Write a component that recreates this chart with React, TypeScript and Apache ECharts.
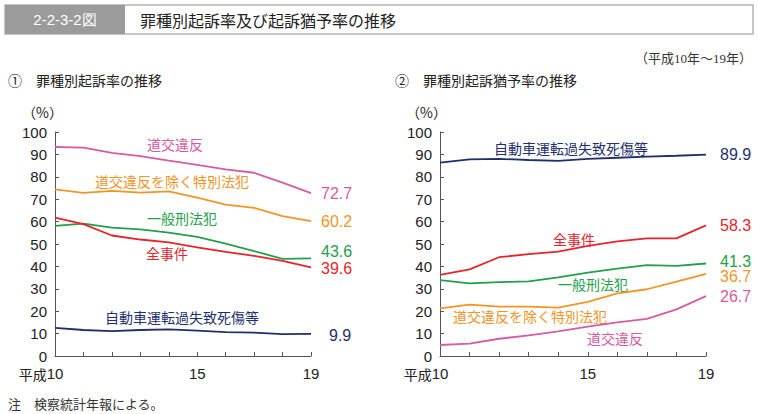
import React, { useEffect, useRef } from "react";
import * as echarts from "echarts";

const years = ["10", "11", "12", "13", "14", "15", "16", "17", "18", "19"];

// ① 起訴率
const prosAll = [61.8, 58.9, 53.8, 52.0, 50.7, 48.5, 46.5, 44.7, 42.5, 39.6];
const prosPenal = [58.1, 59.1, 57.3, 56.5, 55.1, 53.2, 50.2, 46.8, 43.4, 43.6];
const prosTraffic = [93.3, 93.0, 90.7, 89.2, 87.2, 85.3, 83.3, 81.8, 77.4, 72.7];
const prosSpecial = [74.4, 72.8, 73.7, 72.9, 73.5, 70.7, 67.6, 66.1, 62.4, 60.2];
const prosNegligence = [12.6, 11.6, 11.1, 11.6, 11.9, 11.3, 10.7, 10.4, 9.8, 9.9];

// ② 起訴猶予率
const suspAll = [36.2, 38.7, 44.1, 45.5, 46.6, 49.2, 51.2, 52.5, 52.5, 58.3];
const suspPenal = [33.9, 32.4, 33.0, 33.3, 35.1, 37.2, 39.0, 40.6, 40.2, 41.3];
const suspTraffic = [4.9, 5.5, 7.7, 9.2, 11.0, 13.1, 15.0, 16.6, 20.8, 26.7];
const suspSpecial = [21.3, 22.9, 22.0, 22.0, 21.6, 24.2, 28.0, 29.8, 33.2, 36.7];
const suspNegligence = [86.3, 87.8, 88.0, 87.5, 87.1, 88.0, 88.5, 89.0, 89.4, 89.9];

const C_ALL = "#e8232b";
const C_PENAL = "#22a04b";
const C_TRAFFIC = "#d65ba3";
const C_SPECIAL = "#f39427";
const C_NEG = "#1f2f6e";

const JP = "'Noto Sans CJK JP', 'Liberation Sans', sans-serif";
const NUM = "'Liberation Sans', Arial, sans-serif";
const SERIF = "'Liberation Serif', 'DejaVu Serif', 'Noto Sans CJK JP', serif";

export default function App() {
  const ref = useRef<HTMLDivElement>(null);
  useEffect(() => {
    if (!ref.current) return;
    const chart = echarts.init(ref.current, undefined, { renderer: "svg" });

    const xAxisBase = (gridIndex: number) => ({
      type: "category" as const,
      gridIndex,
      data: years,
      boundaryGap: false,
      axisLine: { lineStyle: { color: "#555", width: 1 } },
      axisTick: { show: true, inside: true, length: 4, interval: 0, lineStyle: { color: "#555" } },
      axisLabel: {
        interval: (i: number) => i === 0 || i === 5 || i === 9,
        fontSize: 15,
        lineHeight: 15,
        fontFamily: NUM,
        color: "#222",
        margin: 10,
        formatter: (v: string) => (v === "10" ? "{h|平成}10{s|平成}" : v),
        rich: {
          h: { fontSize: 14, lineHeight: 15, fontFamily: JP, color: "#222" },
          s: { fontSize: 14, lineHeight: 15, fontFamily: JP, color: "transparent" },
        },
      },
      splitLine: { show: false },
    });
    const yAxisBase = (gridIndex: number) => ({
      type: "value" as const,
      gridIndex,
      min: 0,
      max: 100,
      interval: 10,
      axisLine: { show: true, lineStyle: { color: "#555", width: 1 } },
      axisTick: { show: true, inside: true, length: 4, lineStyle: { color: "#555" } },
      axisLabel: { fontSize: 15, lineHeight: 14, fontFamily: NUM, color: "#222", margin: 8 },
      splitLine: { show: false },
    });

    const line = (
      data: number[],
      color: string,
      idx: number,
      offset: [number, number]
    ) => ({
      type: "line" as const,
      xAxisIndex: idx,
      yAxisIndex: idx,
      data,
      symbol: "none",
      lineStyle: { color, width: 1.8 },
      itemStyle: { color },
      endLabel: {
        show: true,
        formatter: (p: any) => Number(p.value).toFixed(1),
        color,
        fontSize: 16,
        lineHeight: 14,
        fontFamily: NUM,
        offset,
      },
    });

    const txt = (x: number, y: number, text: string, color: string, size = 14, family = JP, align = "center") => ({
      type: "text",
      x,
      y,
      style: { text, fill: color, fontSize: size, fontFamily: family, align, verticalAlign: "middle" },
    });

    chart.setOption({
      animation: false,
      grid: [
        { left: 55, top: 132, width: 256, height: 224 },
        { left: 440, top: 132, width: 266, height: 224 },
      ],
      xAxis: [xAxisBase(0), xAxisBase(1)],
      yAxis: [yAxisBase(0), yAxisBase(1)],
      series: [
        line(prosTraffic, C_TRAFFIC, 0, [2, 0]),
        line(prosSpecial, C_SPECIAL, 0, [2, 0]),
        line(prosPenal, C_PENAL, 0, [2, -7]),
        line(prosAll, C_ALL, 0, [2, 1]),
        line(prosNegligence, C_NEG, 0, [10, 2]),
        line(suspNegligence, C_NEG, 1, [6, 0]),
        line(suspAll, C_ALL, 1, [6, 0]),
        line(suspPenal, C_PENAL, 1, [6, -2]),
        line(suspSpecial, C_SPECIAL, 1, [6, 3]),
        line(suspTraffic, C_TRAFFIC, 1, [6, 0]),
      ],
      graphic: [
        { type: "rect", shape: { x: 5, y: 5, width: 748, height: 29 }, style: { fill: "#fff", stroke: "#b4b4b4", lineWidth: 1.5 } },
        { type: "rect", shape: { x: 5, y: 5, width: 120, height: 29 }, style: { fill: "#9b9b9b" } },
        txt(65, 19.5, "2-2-3-2図", "#fff", 15, NUM),
        txt(140, 19.5, "罪種別起訴率及び起訴猶予率の推移", "#222", 16, JP, "left"),
        txt(752, 58, "（平成10年～19年）", "#333", 13, SERIF, "right"),
        txt(8, 80, "①　罪種別起訴率の推移", "#222", 14, JP, "left"),
        txt(395, 80, "②　罪種別起訴猶予率の推移", "#222", 14, JP, "left"),
        txt(22, 112, "（%）", "#222", 14, JP, "left"),
        txt(406, 112, "（%）", "#222", 14, JP, "left"),
        txt(8, 404, "注　検察統計年報による。", "#333", 13, SERIF, "left"),
        // left inline labels
        txt(175, 144, "道交違反", C_TRAFFIC),
        txt(172, 181, "道交違反を除く特別法犯", C_SPECIAL),
        txt(182, 218, "一般刑法犯", C_PENAL),
        txt(167, 253, "全事件", C_ALL),
        txt(182, 317, "自動車運転過失致死傷等", C_NEG),
        // right inline labels
        txt(571, 148, "自動車運転過失致死傷等", C_NEG),
        txt(574, 239, "全事件", C_ALL),
        txt(593, 284, "一般刑法犯", C_PENAL),
        txt(530, 316, "道交違反を除く特別法犯", C_SPECIAL),
        txt(615, 338, "道交違反", C_TRAFFIC),
      ],
    });
    return () => chart.dispose();
  }, []);
  return (
    <div
      ref={ref}
      style={{ position: "fixed", left: 0, top: 0, width: 758, height: 414, background: "#fff" }}
    />
  );
}
